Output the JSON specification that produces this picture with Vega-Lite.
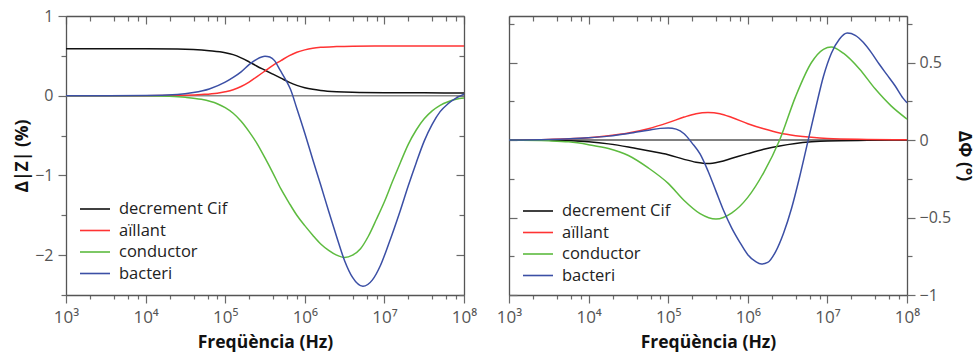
{
  "$schema": "https://vega.github.io/schema/vega-lite/v6.json",
  "padding": {"left": 13, "top": 8, "right": 5, "bottom": 5},
  "bounds": "flush",
  "spacing": 45,
  "datasets": {
    "z": [
      {"f":1e3,"s":"decrement Cif","v":0.59},{"f":3.162e3,"s":"decrement Cif","v":0.59},{"f":1e4,"s":"decrement Cif","v":0.59},{"f":2.512e4,"s":"decrement Cif","v":0.587},{"f":3.981e4,"s":"decrement Cif","v":0.58},{"f":6.31e4,"s":"decrement Cif","v":0.565},{"f":1e5,"s":"decrement Cif","v":0.54},{"f":1.259e5,"s":"decrement Cif","v":0.515},{"f":1.585e5,"s":"decrement Cif","v":0.475},{"f":1.995e5,"s":"decrement Cif","v":0.425},{"f":2.512e5,"s":"decrement Cif","v":0.37},{"f":3.162e5,"s":"decrement Cif","v":0.32},{"f":3.981e5,"s":"decrement Cif","v":0.27},{"f":5.012e5,"s":"decrement Cif","v":0.22},{"f":6.31e5,"s":"decrement Cif","v":0.17},{"f":7.943e5,"s":"decrement Cif","v":0.13},{"f":1e6,"s":"decrement Cif","v":0.1},{"f":1.259e6,"s":"decrement Cif","v":0.08},{"f":1.585e6,"s":"decrement Cif","v":0.066},{"f":2.512e6,"s":"decrement Cif","v":0.05},{"f":3.981e6,"s":"decrement Cif","v":0.042},{"f":1e7,"s":"decrement Cif","v":0.037},{"f":3.162e7,"s":"decrement Cif","v":0.036},{"f":1e8,"s":"decrement Cif","v":0.035},
      {"f":1e3,"s":"aïllant","v":0},{"f":1e4,"s":"aïllant","v":0},{"f":1.995e4,"s":"aïllant","v":0.002},{"f":3.162e4,"s":"aïllant","v":0.006},{"f":5.012e4,"s":"aïllant","v":0.015},{"f":7.943e4,"s":"aïllant","v":0.032},{"f":1e5,"s":"aïllant","v":0.05},{"f":1.259e5,"s":"aïllant","v":0.075},{"f":1.585e5,"s":"aïllant","v":0.115},{"f":1.995e5,"s":"aïllant","v":0.17},{"f":2.512e5,"s":"aïllant","v":0.24},{"f":3.162e5,"s":"aïllant","v":0.31},{"f":3.981e5,"s":"aïllant","v":0.38},{"f":5.012e5,"s":"aïllant","v":0.44},{"f":6.31e5,"s":"aïllant","v":0.5},{"f":7.943e5,"s":"aïllant","v":0.545},{"f":1e6,"s":"aïllant","v":0.575},{"f":1.259e6,"s":"aïllant","v":0.595},{"f":1.585e6,"s":"aïllant","v":0.607},{"f":2.512e6,"s":"aïllant","v":0.617},{"f":3.981e6,"s":"aïllant","v":0.622},{"f":1e7,"s":"aïllant","v":0.625},{"f":1e8,"s":"aïllant","v":0.625},
      {"f":1e3,"s":"conductor","v":0},{"f":1e4,"s":"conductor","v":-0.002},{"f":1.995e4,"s":"conductor","v":-0.008},{"f":3.162e4,"s":"conductor","v":-0.02},{"f":5.012e4,"s":"conductor","v":-0.045},{"f":7.943e4,"s":"conductor","v":-0.1},{"f":1e5,"s":"conductor","v":-0.15},{"f":1.259e5,"s":"conductor","v":-0.22},{"f":1.585e5,"s":"conductor","v":-0.32},{"f":1.995e5,"s":"conductor","v":-0.45},{"f":2.512e5,"s":"conductor","v":-0.6},{"f":3.162e5,"s":"conductor","v":-0.78},{"f":3.981e5,"s":"conductor","v":-0.97},{"f":5.012e5,"s":"conductor","v":-1.17},{"f":6.31e5,"s":"conductor","v":-1.34},{"f":7.943e5,"s":"conductor","v":-1.5},{"f":1e6,"s":"conductor","v":-1.63},{"f":1.259e6,"s":"conductor","v":-1.75},{"f":1.585e6,"s":"conductor","v":-1.86},{"f":1.995e6,"s":"conductor","v":-1.94},{"f":2.512e6,"s":"conductor","v":-2.0},{"f":3.162e6,"s":"conductor","v":-2.03},{"f":3.981e6,"s":"conductor","v":-2.0},{"f":5.012e6,"s":"conductor","v":-1.92},{"f":6.31e6,"s":"conductor","v":-1.76},{"f":7.943e6,"s":"conductor","v":-1.55},{"f":1e7,"s":"conductor","v":-1.33},{"f":1.259e7,"s":"conductor","v":-1.08},{"f":1.585e7,"s":"conductor","v":-0.84},{"f":1.995e7,"s":"conductor","v":-0.61},{"f":2.512e7,"s":"conductor","v":-0.43},{"f":3.162e7,"s":"conductor","v":-0.29},{"f":3.981e7,"s":"conductor","v":-0.19},{"f":5.012e7,"s":"conductor","v":-0.12},{"f":6.31e7,"s":"conductor","v":-0.075},{"f":7.943e7,"s":"conductor","v":-0.045},{"f":1e8,"s":"conductor","v":-0.03},
      {"f":1e3,"s":"bacteri","v":0},{"f":1e4,"s":"bacteri","v":0.002},{"f":2.512e4,"s":"bacteri","v":0.015},{"f":3.981e4,"s":"bacteri","v":0.04},{"f":6.31e4,"s":"bacteri","v":0.085},{"f":1e5,"s":"bacteri","v":0.17},{"f":1.259e5,"s":"bacteri","v":0.23},{"f":1.585e5,"s":"bacteri","v":0.3},{"f":1.995e5,"s":"bacteri","v":0.39},{"f":2.512e5,"s":"bacteri","v":0.46},{"f":3.162e5,"s":"bacteri","v":0.495},{"f":3.631e5,"s":"bacteri","v":0.485},{"f":4.169e5,"s":"bacteri","v":0.44},{"f":4.898e5,"s":"bacteri","v":0.32},{"f":5.754e5,"s":"bacteri","v":0.2},{"f":6.607e5,"s":"bacteri","v":0.08},{"f":7.943e5,"s":"bacteri","v":-0.16},{"f":1e6,"s":"bacteri","v":-0.47},{"f":1.259e6,"s":"bacteri","v":-0.8},{"f":1.585e6,"s":"bacteri","v":-1.12},{"f":1.995e6,"s":"bacteri","v":-1.45},{"f":2.512e6,"s":"bacteri","v":-1.77},{"f":3.162e6,"s":"bacteri","v":-2.07},{"f":3.981e6,"s":"bacteri","v":-2.28},{"f":5.37e6,"s":"bacteri","v":-2.39},{"f":7.079e6,"s":"bacteri","v":-2.31},{"f":8.913e6,"s":"bacteri","v":-2.13},{"f":1.122e7,"s":"bacteri","v":-1.87},{"f":1.585e7,"s":"bacteri","v":-1.44},{"f":1.995e7,"s":"bacteri","v":-1.13},{"f":2.512e7,"s":"bacteri","v":-0.84},{"f":3.162e7,"s":"bacteri","v":-0.57},{"f":3.981e7,"s":"bacteri","v":-0.36},{"f":5.012e7,"s":"bacteri","v":-0.2},{"f":6.31e7,"s":"bacteri","v":-0.1},{"f":7.943e7,"s":"bacteri","v":-0.03},{"f":1e8,"s":"bacteri","v":0.02}
    ],
    "p": [
      {"f":1e3,"s":"decrement Cif","v":0},{"f":3.162e3,"s":"decrement Cif","v":-0.002},{"f":1e4,"s":"decrement Cif","v":-0.012},{"f":1.778e4,"s":"decrement Cif","v":-0.025},{"f":3.162e4,"s":"decrement Cif","v":-0.045},{"f":5.623e4,"s":"decrement Cif","v":-0.07},{"f":1e5,"s":"decrement Cif","v":-0.095},{"f":1.585e5,"s":"decrement Cif","v":-0.125},{"f":2.239e5,"s":"decrement Cif","v":-0.143},{"f":3.162e5,"s":"decrement Cif","v":-0.152},{"f":4.467e5,"s":"decrement Cif","v":-0.14},{"f":6.31e5,"s":"decrement Cif","v":-0.118},{"f":1e6,"s":"decrement Cif","v":-0.088},{"f":1.585e6,"s":"decrement Cif","v":-0.06},{"f":2.512e6,"s":"decrement Cif","v":-0.038},{"f":3.981e6,"s":"decrement Cif","v":-0.022},{"f":6.31e6,"s":"decrement Cif","v":-0.012},{"f":1e7,"s":"decrement Cif","v":-0.006},{"f":3.162e7,"s":"decrement Cif","v":-0.002},{"f":1e8,"s":"decrement Cif","v":0},
      {"f":1e3,"s":"aïllant","v":0},{"f":3.162e3,"s":"aïllant","v":0.004},{"f":1e4,"s":"aïllant","v":0.015},{"f":1.778e4,"s":"aïllant","v":0.027},{"f":3.162e4,"s":"aïllant","v":0.045},{"f":5.623e4,"s":"aïllant","v":0.073},{"f":1e5,"s":"aïllant","v":0.112},{"f":1.585e5,"s":"aïllant","v":0.148},{"f":2.239e5,"s":"aïllant","v":0.17},{"f":3.162e5,"s":"aïllant","v":0.178},{"f":4.467e5,"s":"aïllant","v":0.17},{"f":6.31e5,"s":"aïllant","v":0.145},{"f":1e6,"s":"aïllant","v":0.105},{"f":1.585e6,"s":"aïllant","v":0.072},{"f":2.512e6,"s":"aïllant","v":0.045},{"f":3.981e6,"s":"aïllant","v":0.028},{"f":6.31e6,"s":"aïllant","v":0.017},{"f":1e7,"s":"aïllant","v":0.01},{"f":3.162e7,"s":"aïllant","v":0.004},{"f":1e8,"s":"aïllant","v":0.001},
      {"f":1e3,"s":"conductor","v":0},{"f":3.162e3,"s":"conductor","v":-0.005},{"f":5.623e3,"s":"conductor","v":-0.012},{"f":1e4,"s":"conductor","v":-0.03},{"f":1.778e4,"s":"conductor","v":-0.055},{"f":3.162e4,"s":"conductor","v":-0.1},{"f":5.623e4,"s":"conductor","v":-0.18},{"f":1e5,"s":"conductor","v":-0.28},{"f":1.585e5,"s":"conductor","v":-0.39},{"f":2.512e5,"s":"conductor","v":-0.475},{"f":3.981e5,"s":"conductor","v":-0.51},{"f":6.31e5,"s":"conductor","v":-0.47},{"f":1e6,"s":"conductor","v":-0.37},{"f":1.585e6,"s":"conductor","v":-0.21},{"f":2.512e6,"s":"conductor","v":0},{"f":3.981e6,"s":"conductor","v":0.28},{"f":6.31e6,"s":"conductor","v":0.5},{"f":8.913e6,"s":"conductor","v":0.585},{"f":1.122e7,"s":"conductor","v":0.6},{"f":1.585e7,"s":"conductor","v":0.56},{"f":2.512e7,"s":"conductor","v":0.46},{"f":3.981e7,"s":"conductor","v":0.33},{"f":6.31e7,"s":"conductor","v":0.22},{"f":1e8,"s":"conductor","v":0.135},
      {"f":1e3,"s":"bacteri","v":0},{"f":3.162e3,"s":"bacteri","v":0.003},{"f":1e4,"s":"bacteri","v":0.014},{"f":1.778e4,"s":"bacteri","v":0.025},{"f":3.162e4,"s":"bacteri","v":0.042},{"f":5.623e4,"s":"bacteri","v":0.063},{"f":7.943e4,"s":"bacteri","v":0.075},{"f":1e5,"s":"bacteri","v":0.078},{"f":1.259e5,"s":"bacteri","v":0.07},{"f":1.585e5,"s":"bacteri","v":0.04},{"f":1.995e5,"s":"bacteri","v":-0.02},{"f":2.512e5,"s":"bacteri","v":-0.09},{"f":3.162e5,"s":"bacteri","v":-0.2},{"f":3.981e5,"s":"bacteri","v":-0.33},{"f":5.012e5,"s":"bacteri","v":-0.46},{"f":6.31e5,"s":"bacteri","v":-0.57},{"f":7.943e5,"s":"bacteri","v":-0.66},{"f":1e6,"s":"bacteri","v":-0.74},{"f":1.259e6,"s":"bacteri","v":-0.785},{"f":1.479e6,"s":"bacteri","v":-0.8},{"f":1.778e6,"s":"bacteri","v":-0.79},{"f":2.239e6,"s":"bacteri","v":-0.72},{"f":2.818e6,"s":"bacteri","v":-0.6},{"f":3.548e6,"s":"bacteri","v":-0.44},{"f":4.467e6,"s":"bacteri","v":-0.24},{"f":5.623e6,"s":"bacteri","v":-0.02},{"f":7.079e6,"s":"bacteri","v":0.2},{"f":8.913e6,"s":"bacteri","v":0.41},{"f":1.122e7,"s":"bacteri","v":0.56},{"f":1.413e7,"s":"bacteri","v":0.65},{"f":1.778e7,"s":"bacteri","v":0.69},{"f":2.239e7,"s":"bacteri","v":0.675},{"f":2.818e7,"s":"bacteri","v":0.63},{"f":3.548e7,"s":"bacteri","v":0.565},{"f":4.467e7,"s":"bacteri","v":0.49},{"f":5.623e7,"s":"bacteri","v":0.42},{"f":7.079e7,"s":"bacteri","v":0.35},{"f":8.913e7,"s":"bacteri","v":0.27},{"f":1e8,"s":"bacteri","v":0.24}
    ]
  },
  "hconcat": [
    {
      "width": 398,
      "height": 279,
      "layer": [
        {
          "data": {"values": [{"a": 1000, "b": 100000000, "z": 0}]},
          "mark": {"type": "rule", "color": "#8a8a8a", "strokeWidth": 1.5},
          "encoding": {
            "x": {"field": "a", "type": "quantitative", "scale": {"type": "log", "domain": [1000, 100000000]},
              "axis": {"orient": "top", "title": null, "labels": false, "values": [1e3,2e3,4e3,6e3,8e3,1e4,2e4,4e4,6e4,8e4,1e5,2e5,4e5,6e5,8e5,1e6,2e6,4e6,6e6,8e6,1e7,2e7,4e7,6e7,8e7,1e8],
                "tickSize": {"condition": {"test": "indexof([1000,10000,100000,1000000,10000000,100000000],datum.value)>=0", "value": -8}, "value": -5}}},
            "x2": {"field": "b"},
            "y": {"field": "z", "type": "quantitative", "scale": {"domain": [-2.5, 1], "nice": false, "zero": false},
              "axis": {"orient": "right", "title": null, "labels": false, "values": [1,0.5,0,-0.5,-1,-1.5,-2,-2.5],
                "tickSize": {"condition": {"test": "datum.value%1==0", "value": -8}, "value": -5}}}
          }
        },
        {
          "data": {"name": "z"},
          "mark": {"type": "line", "interpolate": "monotone", "strokeWidth": 1.5},
          "encoding": {
            "x": {"field": "f", "type": "quantitative", "scale": {"type": "log", "domain": [1000, 100000000]},
              "axis": {"orient": "bottom", "title": "Freqüència (Hz)", "values": [1e3,2e3,4e3,6e3,8e3,1e4,2e4,4e4,6e4,8e4,1e5,2e5,4e5,6e5,8e5,1e6,2e6,4e6,6e6,8e6,1e7,2e7,4e7,6e7,8e7,1e8],
                "labelExpr": "datum.value==1000?'10³':datum.value==10000?'10⁴':datum.value==100000?'10⁵':datum.value==1000000?'10⁶':datum.value==10000000?'10⁷':datum.value==100000000?'10⁸':''",
                "labelFlush": false, "labelOverlap": false, "labelPadding": 6, "titlePadding": 8, "labelFontSize": 17,
                "tickSize": {"condition": {"test": "indexof([1000,10000,100000,1000000,10000000,100000000],datum.value)>=0", "value": 8}, "value": 4}}},
            "y": {"field": "v", "type": "quantitative", "scale": {"domain": [-2.5, 1], "nice": false, "zero": false},
              "axis": {"orient": "left", "title": "Δ|Z| (%)", "values": [1,0.5,0,-0.5,-1,-1.5,-2,-2.5],
                "labelExpr": "datum.value%1==0?format(datum.value,'d'):''", "labelOverlap": false, "labelFlush": false,
                "labelPadding": 5, "titlePadding": 3,
                "tickSize": {"condition": {"test": "datum.value%1==0", "value": 8}, "value": 5}}},
            "color": {"field": "s", "type": "nominal",
              "scale": {"domain": ["decrement Cif", "aïllant", "conductor", "bacteri"], "range": ["#111111", "#ff3333", "#5dbb3f", "#3b4fa5"]},
              "legend": {"title": null, "orient": "none", "legendX": 18, "legendY": 182, "symbolType": "M-1.5,0H1.5", "symbolSize": 400, "symbolStrokeWidth": 1.6, "labelFontSize": 16.5, "labelColor": "#222", "labelFont": "Open Sans", "rowPadding": 1.5, "padding": 0, "labelOffset": 13}}
          }
        }
      ],
      "resolve": {"axis": {"x": "independent", "y": "independent"}}
    },
    {
      "width": 398,
      "height": 279,
      "layer": [
        {
          "data": {"values": [{"a": 1000, "b": 100000000, "z": 0}]},
          "mark": {"type": "rule", "color": "#000000", "strokeWidth": 1},
          "encoding": {
            "x": {"field": "a", "type": "quantitative", "scale": {"type": "log", "domain": [1000, 100000000]},
              "axis": {"orient": "top", "title": null, "labels": false, "values": [1e3,2e3,4e3,6e3,8e3,1e4,2e4,4e4,6e4,8e4,1e5,2e5,4e5,6e5,8e5,1e6,2e6,4e6,6e6,8e6,1e7,2e7,4e7,6e7,8e7,1e8],
                "tickSize": {"condition": {"test": "indexof([1000,10000,100000,1000000,10000000,100000000],datum.value)>=0", "value": -8}, "value": -5}}},
            "x2": {"field": "b"},
            "y": {"field": "z", "type": "quantitative", "scale": {"domain": [-1, 0.8], "nice": false, "zero": false},
              "axis": {"orient": "left", "title": null, "labels": false, "values": [0.75,0.5,0.25,0,-0.25,-0.5,-0.75,-1],
                "tickSize": {"condition": {"test": "datum.value*2%1==0", "value": -8}, "value": -5}}}
          }
        },
        {
          "data": {"name": "p"},
          "mark": {"type": "line", "interpolate": "monotone", "strokeWidth": 1.5},
          "encoding": {
            "x": {"field": "f", "type": "quantitative", "scale": {"type": "log", "domain": [1000, 100000000]},
              "axis": {"orient": "bottom", "title": "Freqüència (Hz)", "values": [1e3,2e3,4e3,6e3,8e3,1e4,2e4,4e4,6e4,8e4,1e5,2e5,4e5,6e5,8e5,1e6,2e6,4e6,6e6,8e6,1e7,2e7,4e7,6e7,8e7,1e8],
                "labelExpr": "datum.value==1000?'10³':datum.value==10000?'10⁴':datum.value==100000?'10⁵':datum.value==1000000?'10⁶':datum.value==10000000?'10⁷':datum.value==100000000?'10⁸':''",
                "labelFlush": false, "labelOverlap": false, "labelPadding": 6, "titlePadding": 8, "labelFontSize": 17,
                "tickSize": {"condition": {"test": "indexof([1000,10000,100000,1000000,10000000,100000000],datum.value)>=0", "value": 8}, "value": 4}}},
            "y": {"field": "v", "type": "quantitative", "scale": {"domain": [-1, 0.8], "nice": false, "zero": false},
              "axis": {"orient": "right", "title": "ΔΦ (°)", "values": [0.75,0.5,0.25,0,-0.25,-0.5,-0.75,-1],
                "labelExpr": "datum.value*2%1==0?format(datum.value,'~g'):''", "labelOverlap": false, "labelFlush": false,
                "labelPadding": 4, "titlePadding": 4,
                "tickSize": {"condition": {"test": "datum.value*2%1==0", "value": 8}, "value": 5}}},
            "color": {"field": "s", "type": "nominal",
              "scale": {"domain": ["decrement Cif", "aïllant", "conductor", "bacteri"], "range": ["#111111", "#ff3333", "#5dbb3f", "#3b4fa5"]},
              "legend": {"title": null, "orient": "none", "legendX": 18, "legendY": 184, "symbolType": "M-1.5,0H1.5", "symbolSize": 400, "symbolStrokeWidth": 1.6, "labelFontSize": 16.5, "labelColor": "#222", "labelFont": "Open Sans", "rowPadding": 1.5, "padding": 0, "labelOffset": 13}}
          }
        }
      ],
      "resolve": {"axis": {"x": "independent", "y": "independent"}}
    }
  ],
  "resolve": {"legend": {"color": "independent"}},
  "config": {
    "font": "Open Sans",
    "view": {"stroke": null},
    "axis": {
      "domainColor": "#555555", "domainWidth": 1.3, "tickColor": "#6a6a6a", "tickWidth": 1.2,
      "labelFont": "Open Sans, DejaVu Sans", "labelFontSize": 16, "labelColor": "#555555",
      "titleFont": "Open Sans", "titleFontSize": 17.5, "titleFontWeight": "bold", "titleColor": "#111111",
      "grid": false
    }
  }
}
